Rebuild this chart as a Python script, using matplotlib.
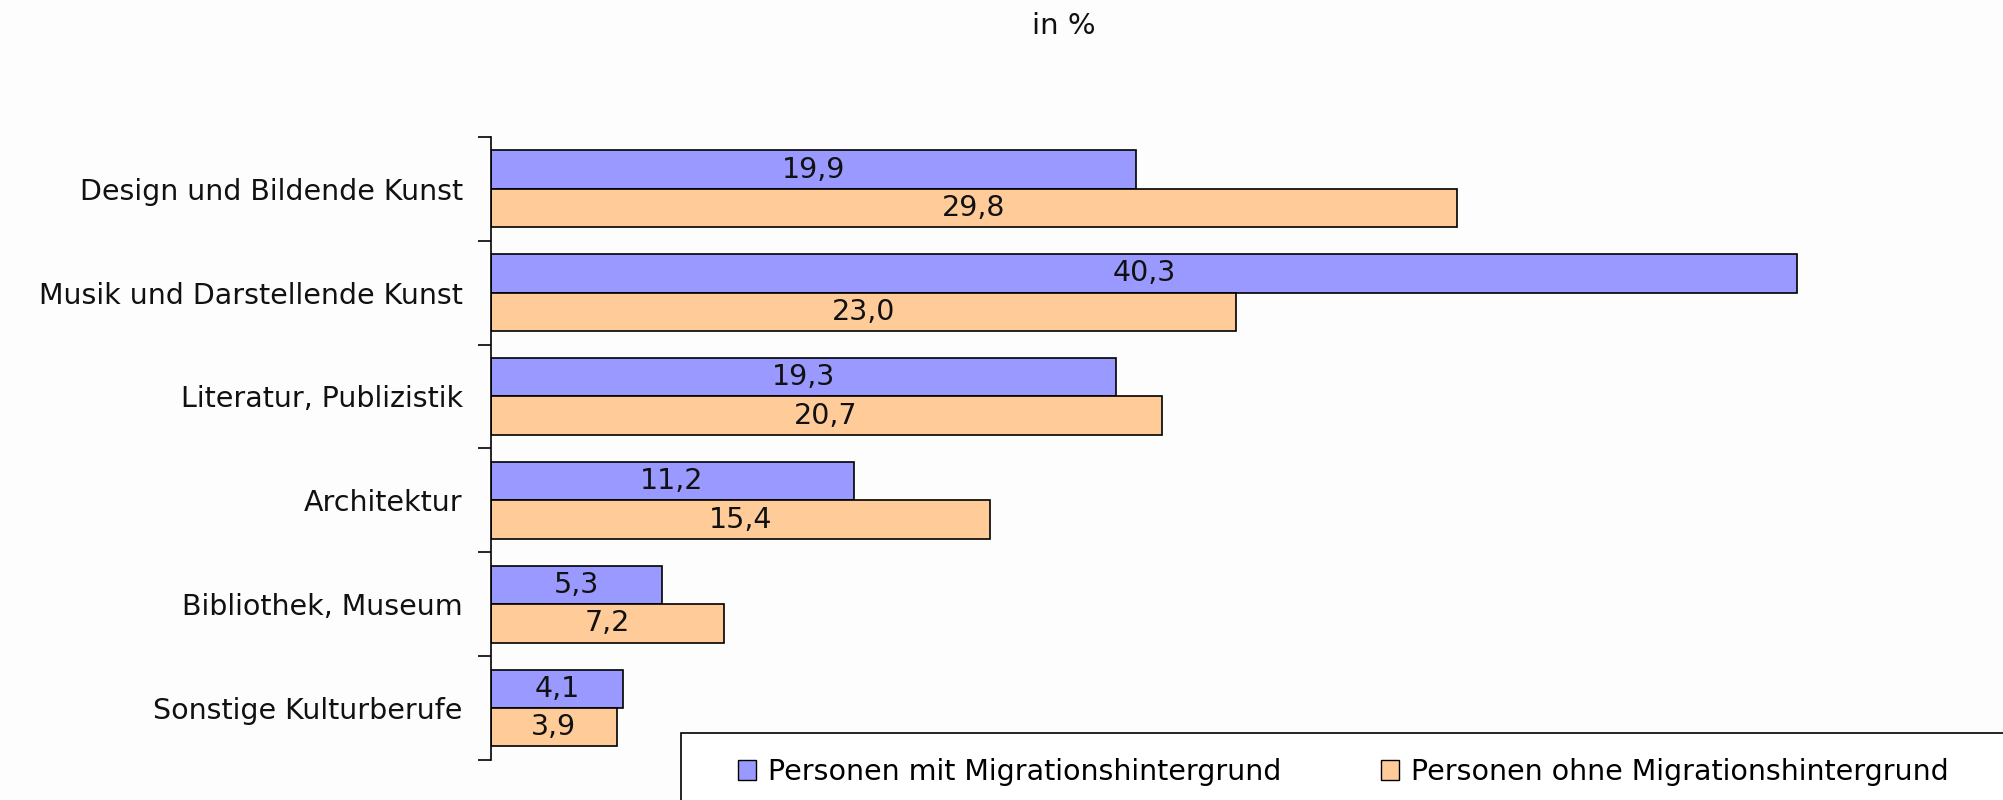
import numpy as np
import matplotlib
matplotlib.use("Agg")
import matplotlib.pyplot as plt
from matplotlib.patches import Rectangle

plt.rcParams['font.family'] = ['DejaVu Sans']

# Data
categories = ["Design und Bildende Kunst", "Musik und Darstellende Kunst",
              "Literatur, Publizistik", "Architektur",
              "Bibliothek, Museum", "Sonstige Kulturberufe"]
mit_migration = [19.9, 40.3, 19.3, 11.2, 5.3, 4.1]
ohne_migration = [29.8, 23.0, 20.7, 15.4, 7.2, 3.9]
series_names = ["Personen mit Migrationshintergrund",
                "Personen ohne Migrationshintergrund"]
title = "in %"

col_mit = "#9999FF"
col_ohne = "#FFCC99"
fs = 20.5

fig = plt.figure(figsize=(20.03, 8), dpi=100)
fig.patch.set_facecolor("#FDFDFD")
ax = fig.add_axes([0.2449, 0.05, 0.7551, 0.779])
ax.set_facecolor("#FDFDFD")

y = np.arange(len(categories))
h = 0.37
b1 = ax.barh(y - h / 2, mit_migration, height=h, color=col_mit,
             edgecolor="black", linewidth=1.2)
b2 = ax.barh(y + h / 2, ohne_migration, height=h, color=col_ohne,
             edgecolor="black", linewidth=1.2)

# value labels inside bars
for bars, vals in [(b1, mit_migration), (b2, ohne_migration)]:
    for rect, v in zip(bars, vals):
        ax.text(v / 2, rect.get_y() + rect.get_height() / 2,
                f"{v:.1f}".replace(".", ","), ha="center", va="center",
                fontsize=fs, color="#111111")

ax.set_xlim(0, 46.65)
ax.set_ylim(len(categories) - 0.5, -0.5)

for s in ["top", "right", "bottom"]:
    ax.spines[s].set_visible(False)
ax.spines["left"].set_linewidth(1.2)
ax.set_xticks([])
ax.set_yticks(y)
ax.set_yticklabels(categories, fontsize=fs, color="#111111")
ax.tick_params(axis="y", which="major", length=0, pad=20)
ax.set_yticks(np.arange(-0.5, len(categories)), minor=True)
ax.tick_params(axis="y", which="minor", length=9.5, width=1.2, direction="out")

fig.text(0.531, 0.985, title, ha="center", va="top", fontsize=21, color="#111111")

# legend box extending past the figure edge
fig.patches.append(Rectangle((0.34, -0.02), 0.67, 0.104, transform=fig.transFigure,
                             facecolor="white", edgecolor="black", linewidth=1.2))
handles = [Rectangle((0, 0), 1, 1, facecolor=col_mit, edgecolor="black"),
           Rectangle((0, 0), 1, 1, facecolor=col_ohne, edgecolor="black")]
fig.legend(handles, series_names, loc="center left",
           bbox_to_anchor=(0.3555, 0.035), ncol=2, frameon=False, fontsize=fs,
           handlelength=0.65, handleheight=0.65, handletextpad=0.4,
           columnspacing=3.5)

fig.savefig("out.png", dpi=100, facecolor=fig.get_facecolor())
